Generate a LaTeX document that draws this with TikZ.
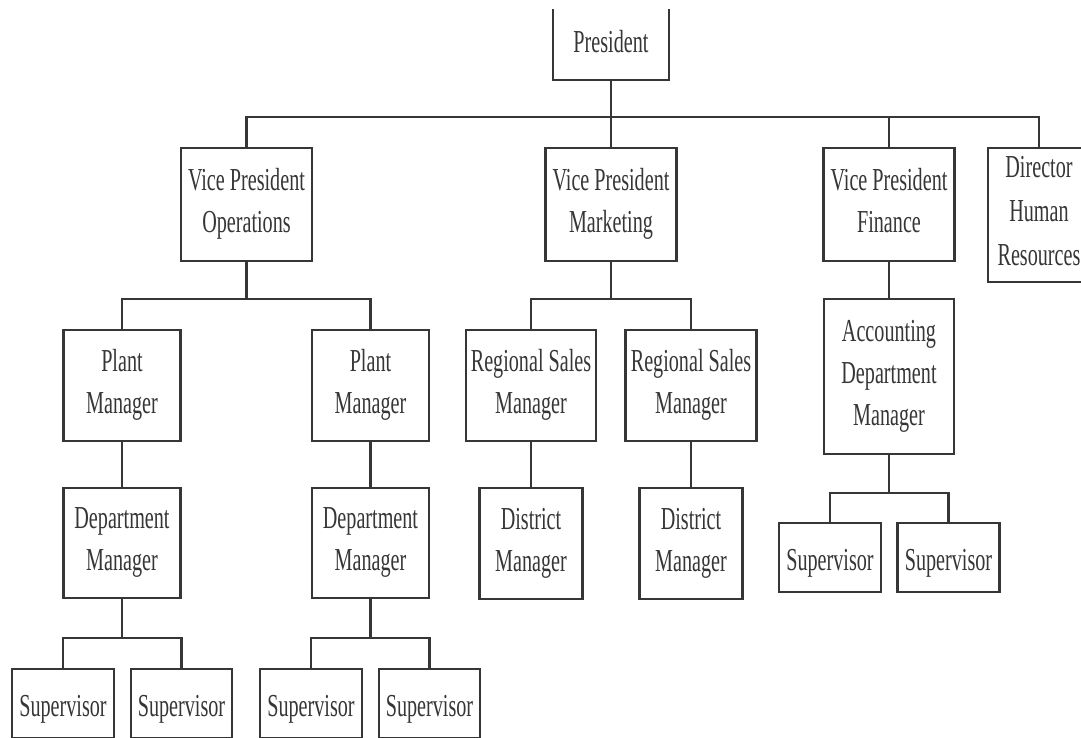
\documentclass[tikz,border=0pt]{standalone}
\usepackage{fontspec}
\setmainfont{Liberation Serif}[FakeStretch=0.63]
\definecolor{ink}{HTML}{363636}
\begin{document}
\begin{tikzpicture}[x=1pt,y=-1pt,
  box/.style={draw=ink, line width=2.8pt, fill=white, inner sep=0pt,
    align=center, text=ink, font=\fontsize{32}{42}\selectfont,
    execute at begin node={\rule{0pt}{34pt}},
    execute at end node={\rule[-7.5pt]{0pt}{7.5pt}}},
  link/.style={draw=ink, line width=2.8pt}]
\useasboundingbox (0,0) rectangle (1081,737);
\fill[white] (0,0) rectangle (1081,737);
\begin{scope}
\clip (0,9) rectangle (1081,737);

% bus levels
\coordinate (topbus) at (0,117);
\coordinate (midbus) at (0,299);
\coordinate (supbusA) at (0,638);
\coordinate (supbusF) at (0,493);

% top level
\node[box, minimum width=116pt, minimum height=82pt] (pres) at (611,39) {President};

% vice presidents and director
\node[box, minimum width=131pt, minimum height=113pt] (vpo) at (246.5,204.5) {Vice President\\Operations};
\node[box, minimum width=131pt, minimum height=113pt] (vpm) at (611,204.5) {Vice President\\Marketing};
\node[box, minimum width=131pt, minimum height=113pt] (vpf) at (889,204.5) {Vice President\\Finance};
\node[box, minimum width=102pt, minimum height=134pt, font=\fontsize{32}{44}\selectfont] (dhr) at (1039,215) {Director\\Human\\Resources};

% second level
\node[box, minimum width=117pt, minimum height=111pt] (pm1) at (122,385.5) {Plant\\Manager};
\node[box, minimum width=117pt, minimum height=111pt] (pm2) at (370.5,385.5) {Plant\\Manager};
\node[box, minimum width=130pt, minimum height=111pt] (rs1) at (531,385.5) {Regional Sales\\Manager};
\node[box, minimum width=131pt, minimum height=111pt] (rs2) at (691,385.5) {Regional Sales\\Manager};
\node[box, minimum width=130pt, minimum height=155pt] (acc) at (889,376.5) {Accounting\\Department\\Manager};

% third level
\node[box, minimum width=117pt, minimum height=110pt] (dm1) at (122,543) {Department\\Manager};
\node[box, minimum width=117pt, minimum height=110pt] (dm2) at (370.5,543) {Department\\Manager};
\node[box, minimum width=103pt, minimum height=111pt] (di1) at (531,543.5) {District\\Manager};
\node[box, minimum width=103pt, minimum height=111pt] (di2) at (691,543.5) {District\\Manager};
\node[box, minimum width=102pt, minimum height=69pt] (sf1) at (830,557.5) {Supervisor};
\node[box, minimum width=102pt, minimum height=69pt] (sf2) at (948.5,557.5) {Supervisor};

% supervisors under the department managers
\node[box, minimum width=102pt, minimum height=69pt] (s1) at (63,703.5) {Supervisor};
\node[box, minimum width=101pt, minimum height=69pt] (s2) at (181.5,703.5) {Supervisor};
\node[box, minimum width=102pt, minimum height=69pt] (s3) at (311,703.5) {Supervisor};
\node[box, minimum width=101pt, minimum height=69pt] (s4) at (429.5,703.5) {Supervisor};

% connectors
\draw[link] (pres.south) -- (vpm.north);
\draw[link] (vpo.north) -- (vpo.north |- topbus) -- (dhr.north |- topbus) -- (dhr.north);
\draw[link] (vpf.north) -- (vpf.north |- topbus);

\draw[link] (vpo.south) -- (vpo.south |- midbus);
\draw[link] (pm1.north) -- (pm1.north |- midbus) -- (pm2.north |- midbus) -- (pm2.north);
\draw[link] (vpm.south) -- (vpm.south |- midbus);
\draw[link] (rs1.north) -- (rs1.north |- midbus) -- (rs2.north |- midbus) -- (rs2.north);
\draw[link] (vpf.south) -- (acc.north);

\draw[link] (pm1.south) -- (dm1.north);
\draw[link] (pm2.south) -- (dm2.north);
\draw[link] (rs1.south) -- (di1.north);
\draw[link] (rs2.south) -- (di2.north);

\draw[link] (dm1.south) -- (dm1.south |- supbusA);
\draw[link] (s1.north) -- (s1.north |- supbusA) -- (s2.north |- supbusA) -- (s2.north);
\draw[link] (dm2.south) -- (dm2.south |- supbusA);
\draw[link] (s3.north) -- (s3.north |- supbusA) -- (s4.north |- supbusA) -- (s4.north);

\draw[link] (acc.south) -- (acc.south |- supbusF);
\draw[link] (sf1.north) -- (sf1.north |- supbusF) -- (sf2.north |- supbusF) -- (sf2.north);
\end{scope}
\end{tikzpicture}
\end{document}
